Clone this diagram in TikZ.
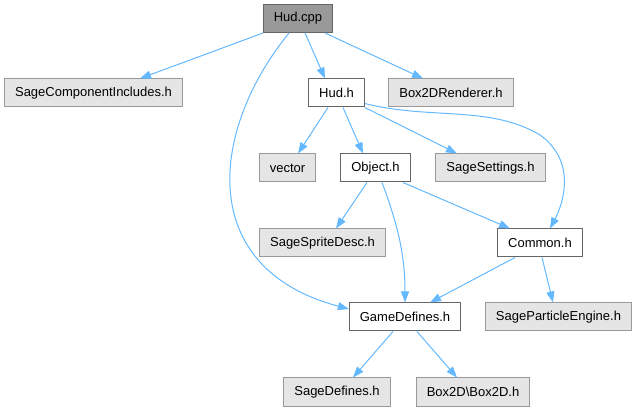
\documentclass[tikz,border=0pt]{standalone}
\usepackage{fontspec}
\setmainfont{Liberation Sans}
\usetikzlibrary{arrows.meta, calc}
\definecolor{cedge}{HTML}{63B8FF}
\definecolor{croot}{HTML}{999999}
\definecolor{cext}{HTML}{E5E5E5}
\definecolor{cframe}{HTML}{666666}
\definecolor{cframelight}{HTML}{999999}

\begin{document}
\begin{tikzpicture}[
    x=1pt, y=-1pt,
    file/.style={draw=cframe, fill=white, line width=1pt, minimum height=28pt, inner xsep=10.5pt, font=\fontsize{13}{15}\selectfont},
    rootfile/.style={file, fill=croot},
    extfile/.style={file, fill=cext, draw=cframelight},
    dep/.style={-{Triangle[length=11pt,width=8pt]}, line width=1pt, cedge}
]
\useasboundingbox (0,0) rectangle (637,411);

%% Nodes
\node[rootfile] (hudcpp) at (298,18.5) {Hud.cpp};
\node[extfile] (sci) at (93.5,93) {SageComponentIncludes.h};
\node[file] (hudh) at (336.5,93) {Hud.h};
\node[extfile] (b2drend) at (451,93) {Box2DRenderer.h};
\node[extfile] (vector) at (287.5,168) {vector};
\node[file] (objecth) at (375.5,168) {Object.h};
\node[extfile] (settings) at (490.5,168) {SageSettings.h};
\node[extfile] (sprite) at (322.5,243) {SageSpriteDesc.h};
\node[file] (commonh) at (540,243) {Common.h};
\node[file] (gamedef) at (405,317) {GameDefines.h};
\node[extfile] (particle) at (558.5,317) {SageParticleEngine.h};
\node[extfile] (sagedef) at (337,392) {SageDefines.h};
\node[extfile] (box2d) at (473,392) {Box2D\textbackslash Box2D.h};

%% Hud.cpp
\draw[dep] ([xshift=-35pt]hudcpp.south) -- ([xshift=46.5pt]sci.north);
\draw[dep] ([xshift=7pt]hudcpp.south) -- ([xshift=-11.5pt]hudh.north);
\draw[dep] ([xshift=27pt]hudcpp.south) -- ([xshift=-28pt]b2drend.north);
\draw[dep] ([xshift=-9pt]hudcpp.south) .. controls (210,130) and (195,268) .. ([yshift=8pt]gamedef.west);

%% Hud.h
\draw[dep] ([xshift=-8.5pt]hudh.south) -- ([xshift=10.5pt]vector.north);
\draw[dep] ([xshift=6.5pt]hudh.south) -- ([xshift=-12.5pt]objecth.north);
\draw[dep] (hudh.south east) -- ([xshift=-33.5pt]settings.north);
\draw[dep] ([yshift=4pt]hudh.south east) .. controls (430,120) and (490,105) .. (540,135)
    .. controls (575,160) and (565,200) .. ([xshift=10pt]commonh.north);

%% Object.h
\draw[dep] ([xshift=-8.5pt]objecth.south) -- ([xshift=13.5pt]sprite.north);
\draw[dep] ([xshift=6.5pt]objecth.south) .. controls (400,230) and (405,260) .. (gamedef.north);
\draw[dep] ([xshift=27.5pt]objecth.south) -- ([xshift=-30pt]commonh.north);

%% Common.h
\draw[dep] ([xshift=-25pt]commonh.south) -- ([xshift=25pt]gamedef.north);
\draw[dep] ([xshift=2pt]commonh.south) -- ([xshift=-5.5pt]particle.north);

%% GameDefines.h
\draw[dep] ([xshift=-12pt]gamedef.south) -- ([xshift=16pt]sagedef.north);
\draw[dep] ([xshift=12pt]gamedef.south) -- ([xshift=-16pt]box2d.north);

\end{tikzpicture}
\end{document}
